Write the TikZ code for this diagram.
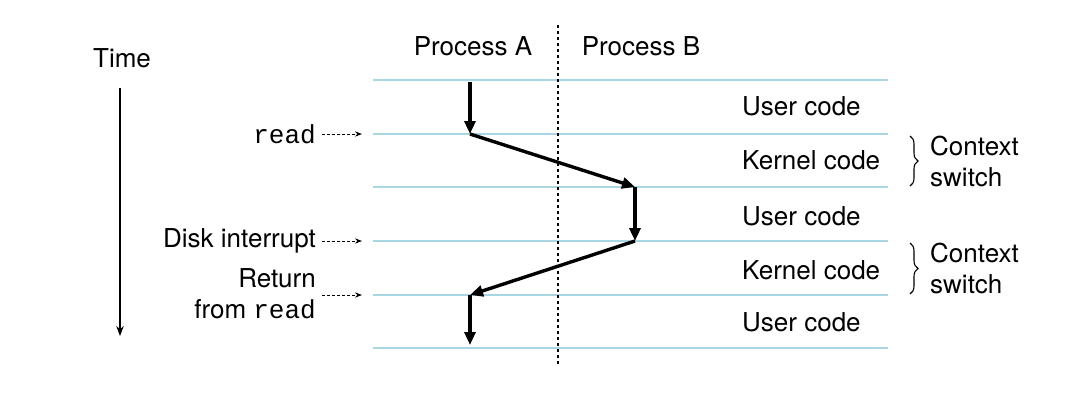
\documentclass[tikz,border=0pt]{standalone}
\usepackage{fontspec}
\setmainfont{TeX Gyre Heros}
\setmonofont{Liberation Mono}
\usetikzlibrary{arrows.meta,decorations.pathreplacing}
\definecolor{lb}{RGB}{170,214,228}
\tikzset{
 lvl/.style={lb,line width=2.4pt},
 flow/.style={line width=3.4pt,-{Triangle[length=13pt,width=11pt]}},
 ptr/.style={densely dashed,line width=1pt,-{Stealth[length=7pt]}},
 lab/.style={font=\fontsize{26}{31}\selectfont,inner sep=0pt},
}
\begin{document}
\begin{tikzpicture}[x=1pt,y=-1pt]
\useasboundingbox (0,0) rectangle (1088,400);
\foreach \y/\n in {80/l0,134/l1,187/l2,241/l3,295/l4,348/l5}{
 \draw[lvl] (373,\y) -- (888,\y);
 \coordinate (a\n) at (470,\y); \coordinate (b\n) at (635,\y);}
\draw[dashed,line width=1.1pt] (558,25) -- (558,366);
\node[lab] (pa) at (473,46) {Process A};
\node[lab] (pb) at (641,46) {Process B};
\draw[flow] (470,82) -- (al1);
\draw[flow] (al1) -- (bl2);
\draw[flow] (bl2) -- (bl3);
\draw[flow] (bl3) -- (al4);
\draw[flow] (al4) -- (470,345);
\foreach \y/\t in {106/User code,160/Kernel code,216/User code,270/Kernel code,322/User code}
 \node[lab,anchor=west] at (742,\y) {\t};
\draw[line width=1.1pt,decorate,decoration={brace,amplitude=8pt}] (910,136) -- (910,186);
\draw[line width=1.1pt,decorate,decoration={brace,amplitude=8pt}] (910,243) -- (910,294);
\node[lab,anchor=west,align=left] (c1) at (930,161) {Context\\switch};
\node[lab,anchor=west,align=left] (c2) at (930,268) {Context\\switch};
\node[lab] (time) at (122,58) {Time};
\draw[line width=1.2pt,-{Stealth[length=10pt]}] (120,88) -- (120,336);
\node[lab,anchor=east] (rd) at (316,134) {\ttfamily read};
\node[lab,anchor=east] (di) at (316,241) {Disk interrupt};
\node[lab,anchor=east,align=right] (rf) at (316,294) {Return\\from {\ttfamily read}};
\coordinate (e1) at (362,134); \coordinate (e2) at (362,241); \coordinate (e3) at (362,295);
\draw[ptr] (322,134) -- (e1);
\draw[ptr] (322,241) -- (e2);
\draw[ptr] (322,295) -- (e3);
\end{tikzpicture}
\end{document}
